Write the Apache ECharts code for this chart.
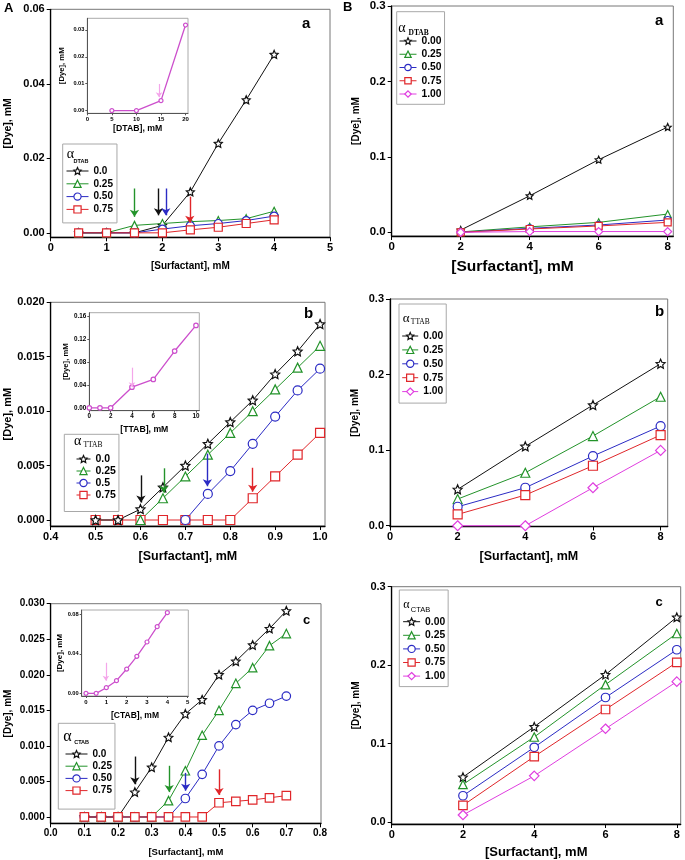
<!DOCTYPE html>
<html><head><meta charset="utf-8">
<script src="https://cdn.jsdelivr.net/npm/echarts@6/dist/echarts.min.js"></script>
<style>html,body{margin:0;padding:0;background:#fff}#c{width:685px;height:860px}</style>
</head><body><div id="c"></div>
<script>
// ---------------- DATA ----------------
// Panel A-a (DTAB)
const xAa = [0.5, 1, 1.5, 2, 2.5, 3, 3.5, 4];
const yAa00 = [0, 0, 0, 0.002, 0.011, 0.024, 0.0357, 0.0479];
const yAa25 = [0, 0, 0.002, 0.0025, 0.003, 0.0033, 0.0038, 0.0058];
const yAa50 = [0, 0, 0, 0.001, 0.0019, 0.0025, 0.0033, 0.0045];
const yAa75 = [0, 0, 0, 0, 0.0008, 0.0015, 0.0025, 0.0035];
const xAaIn = [5, 10, 15, 20];
const yAaIn = [0, 0, 0.0037, 0.0318];
// arrows: [x, yStart, yEnd]
const arrAa00 = [1.93, 0.0119, 0.0047];
const arrAa25 = [1.5, 0.0119, 0.0043];
const arrAa50 = [2.06, 0.0119, 0.0047];
const arrAa75 = [2.49, 0.0097, 0.0027];
const arrAaIn = [14.6, 0.0099, 0.005];

// Panel A-b (TTAB)
const xAb = [0.5, 0.55, 0.6, 0.65, 0.7, 0.75, 0.8, 0.85, 0.9, 0.95, 1.0];
const yAb00 = [0, 0, 0.001, 0.003, 0.005, 0.007, 0.009, 0.011, 0.0134, 0.0155, 0.018];
const yAb25 = [null, null, 0, 0.002, 0.004, 0.006, 0.008, 0.010, 0.012, 0.014, 0.016];
const yAb50 = [null, null, null, null, 0, 0.0024, 0.0045, 0.007, 0.0095, 0.0119, 0.0139];
const yAb75 = [0, 0, 0, 0, 0, 0, 0, 0.002, 0.004, 0.006, 0.008];
const xAbIn = [0, 1, 2, 4, 6, 8, 10];
const yAbIn = [0, 0, 0, 0.036, 0.0495, 0.099, 0.1437];
const arrAb00 = [0.601, 0.0041, 0.0016];
const arrAb25 = [0.652, 0.00475, 0.0025];
const arrAb50 = [0.749, 0.0061, 0.0031];
const arrAb75 = [0.85, 0.0048, 0.0026];
const arrAbIn = [4, 0.07, 0.036];

// Panel A-c (CTAB)
const xAc = [0.1, 0.15, 0.2, 0.25, 0.3, 0.35, 0.4, 0.45, 0.5, 0.55, 0.6, 0.65, 0.7];
const yAc00 = [0, 0, 0, 0.0035, 0.007, 0.0112, 0.0145, 0.0165, 0.0200, 0.0219, 0.0242, 0.0265, 0.0290];
const yAc25 = [0, 0, 0, 0, 0, 0.0023, 0.0065, 0.0115, 0.0150, 0.0188, 0.0210, 0.0241, 0.0258];
const yAc50 = [0, 0, 0, 0, 0, 0, 0.0026, 0.0060, 0.0100, 0.0130, 0.0150, 0.0160, 0.0170];
const yAc75 = [0, 0, 0, 0, 0, 0, 0, 0, 0.0020, 0.0022, 0.0024, 0.0027, 0.0030];
const xAcIn = [0, 0.5, 1, 1.5, 2, 2.5, 3, 3.5, 4];
const yAcIn = [0, 0, 0.0057, 0.0128, 0.0246, 0.0375, 0.052, 0.0675, 0.0817];
const arrAc00 = [0.25, 0.0085, 0.0046];
const arrAc25 = [0.352, 0.0072, 0.0035];
const arrAc50 = [0.401, 0.0062, 0.0037];
const arrAc75 = [0.5, 0.0067, 0.0031];
const arrAcIn = [0.98, 0.031, 0.0128];

// Panels B (a: DTAB, b: TTAB, c: CTAB)
const xB = [2, 4, 6, 8];
const yBa00 = [0.003, 0.0484, 0.0963, 0.1395];
const yBa25 = [0.0005, 0.0072, 0.0132, 0.0242];
const yBa50 = [0, 0.0053, 0.0097, 0.0163];
const yBa75 = [0, 0.0044, 0.0084, 0.0132];
const yBa100 = [0, 0.001, 0.001, 0.001];
const yBb00 = [0.0481, 0.105, 0.1597, 0.2144];
const yBb25 = [0.0353, 0.0701, 0.1187, 0.1707];
const yBb50 = [0.0251, 0.0503, 0.0922, 0.1319];
const yBb75 = [0.015, 0.0406, 0.0794, 0.12];
const yBb100 = [0, 0, 0.0503, 0.0997];
const yBc00 = [0.0575, 0.1217, 0.188, 0.2611];
const yBc25 = [0.0482, 0.1086, 0.1753, 0.2404];
const yBc50 = [0.0338, 0.0955, 0.1589, 0.2197];
const yBc75 = [0.0215, 0.0837, 0.1436, 0.2036];
const yBc100 = [0.0093, 0.0591, 0.1191, 0.1791];

// Tick values and labels
const tAaX = [0, 1, 2, 3, 4, 5], lAaX = ['0', '1', '2', '3', '4', '5'];
const tAaY = [0, 0.02, 0.04, 0.06], lAaY = ['0.00', '0.02', '0.04', '0.06'];
const tAbX = [0.4, 0.5, 0.6, 0.7, 0.8, 0.9, 1.0], lAbX = ['0.4', '0.5', '0.6', '0.7', '0.8', '0.9', '1.0'];
const tAbY = [0, 0.005, 0.01, 0.015, 0.02], lAbY = ['0.000', '0.005', '0.010', '0.015', '0.020'];
const tAcX = [0, 0.1, 0.2, 0.3, 0.4, 0.5, 0.6, 0.7, 0.8], lAcX = ['0.0', '0.1', '0.2', '0.3', '0.4', '0.5', '0.6', '0.7', '0.8'];
const tAcY = [0, 0.005, 0.01, 0.015, 0.02, 0.025, 0.03], lAcY = ['0.000', '0.005', '0.010', '0.015', '0.020', '0.025', '0.030'];
const tBX = [0, 2, 4, 6, 8], lBX = ['0', '2', '4', '6', '8'];
const tBY = [0, 0.1, 0.2, 0.3], lBY = ['0.0', '0.1', '0.2', '0.3'];
const tAaInX = [0, 5, 10, 15, 20], lAaInX = ['0', '5', '10', '15', '20'];
const tAaInY = [0, 0.01, 0.02, 0.03], lAaInY = ['0.00', '0.01', '0.02', '0.03'];
const tAbInX = [0, 2, 4, 6, 8, 10], lAbInX = ['0', '2', '4', '6', '8', '10'];
const tAbInY = [0, 0.04, 0.08, 0.12, 0.16], lAbInY = ['0.00', '0.04', '0.08', '0.12', '0.16'];
const tAcInX = [0, 1, 2, 3, 4, 5], lAcInX = ['0', '1', '2', '3', '4', '5'];
const tAcInY = [0, 0.04, 0.08], lAcInY = ['0.00', '0.04', '0.08'];

// Legend labels
const legA = ['0.0', '0.25', '0.50', '0.75'];
const legAb = ['0.0', '0.25', '0.5', '0.75'];
const legB = ['0.00', '0.25', '0.50', '0.75', '1.00'];

// ---------------- STYLE / BUILD ----------------
const FF = '"Liberation Sans", Arial, sans-serif';
const SERIF = '"Liberation Serif", "DejaVu Serif", serif';
const COL = { k: '#111111', g: '#23932a', b: '#2b2bc4', r: '#e0262a', m: '#e03ee0' };
const INC = '#cc4fcc';
const STAR = 'path://M0,-100L28,-38L95.1,-30.9L45,15L58.8,80.9L0,48L-58.8,80.9L-45,15L-95.1,-30.9L-28,-38Z';
const SYM = { k: STAR, g: 'triangle', b: 'circle', r: 'rect', m: 'diamond' };

function lab(v, ticks, labels) {
  let bi = 0, bd = Infinity;
  ticks.forEach((t, i) => { const d = Math.abs(t - v); if (d < bd) { bd = d; bi = i; } });
  return labels[bi];
}

function axis(gi, min, max, ticks, labels, fs, name, nfs, ngap, o) {
  o = o || {};
  return {
    type: 'value', gridIndex: gi, min: min, max: max,
    axisLine: { show: true, onZero: false, lineStyle: { color: o.lc || '#000', width: o.lw || 1.3 } },
    axisTick: { show: true, customValues: ticks, length: o.tl || 4, lineStyle: { color: o.lc || '#000', width: 1 } },
    axisLabel: { show: true, customValues: ticks, formatter: v => lab(v, ticks, labels), fontSize: fs, fontWeight: 'bold', color: '#000', margin: o.m || 5, fontFamily: FF },
    splitLine: { show: false },
    name: name, nameLocation: 'middle', nameGap: ngap,
    nameTextStyle: { fontSize: nfs, fontWeight: 'bold', color: '#000', fontFamily: FF, padding: o.np || 0 }
  };
}

function arrowML(a, col, w, sz) {
  return {
    silent: true, animation: false, symbol: ['none', 'arrow'], symbolSize: sz || 7,
    lineStyle: { color: col, width: w || 1.4, type: 'solid', opacity: 1 },
    itemStyle: { color: col, borderColor: col },
    label: { show: false },
    emphasis: { disabled: true },
    data: [[{ coord: [a[0], a[1]] }, { coord: [a[0], a[2]] }]]
  };
}

function ser(name, gi, xs, ys, key, size, arrow, opt) {
  opt = opt || {};
  const data = [];
  xs.forEach((x, i) => { if (ys[i] !== null) data.push([x, ys[i]]); });
  const col = opt.col || COL[key];
  const s = {
    type: 'line', name: name, xAxisIndex: gi, yAxisIndex: gi, data: data,
    symbol: opt.sym || SYM[key], symbolSize: size, showSymbol: true,
    lineStyle: { color: col, width: opt.lw || 1 },
    itemStyle: { color: '#fff', borderColor: col, borderWidth: opt.bw || 1.2 },
    emphasis: { disabled: true }, animation: false, clip: false
  };
  if (arrow) s.markLine = arrowML(arrow, opt.acol || col, opt.aw, opt.as);
  return s;
}

const grids = [
  { left: 50.7, top: 9.3, width: 279.3, height: 228 },     // 0 Aa
  { left: 50.7, top: 302.3, width: 274.3, height: 223.7 }, // 1 Ab
  { left: 50.7, top: 603.7, width: 270.3, height: 219.6 }, // 2 Ac
  { left: 391.7, top: 5, width: 281.6, height: 231 },      // 3 Ba
  { left: 390, top: 299, width: 277.7, height: 227.5 },    // 4 Bb
  { left: 391.7, top: 586.7, width: 289, height: 238.3 },  // 5 Bc
  { left: 87.3, top: 18.3, width: 100.7, height: 95 },     // 6 AaIn
  { left: 89.3, top: 312.7, width: 110, height: 98 },      // 7 AbIn
  { left: 81.7, top: 610, width: 106.6, height: 86 }       // 8 AcIn
].map((g, i) => Object.assign(g, { show: true, borderColor: i < 6 ? '#777' : '#aaa', borderWidth: 1, backgroundColor: '#fff', containLabel: false }));

const SX = 'Surfactant';
const inO = { lc: '#555', lw: 1, tl: 2, m: 3 };
const xAxes = [
  axis(0, 0, 5, tAaX, lAaX, 11, '[' + SX + '], mM', 10, 23.5),
  axis(1, 0.4, 1.011, tAbX, lAbX, 11, '[' + SX + '], mM', 12.5, 24),
  axis(2, 0, 0.803, tAcX, lAcX, 10, '[' + SX + '], mM', 9.5, 24.5),
  axis(3, 0, 8.163, tBX, lBX, 11.5, '[' + SX + '], mM', 15.5, 23, { np: [0, 40, 0, 0] }),
  axis(4, 0, 8.21, tBX, lBX, 11, '[' + SX + '], mM', 12.5, 24),
  axis(5, 0, 8.11, tBX, lBX, 11, '[' + SX + '], mM', 13, 22),
  axis(6, 0, 20.5, tAaInX, lAaInX, 6, '[DTAB], mM', 8.7, 10.5, inO),
  axis(7, 0, 10.31, tAbInX, lAbInX, 6.3, '[TTAB], mM', 8.7, 14, inO),
  axis(8, -0.21, 5.03, tAcInX, lAcInX, 6, '[CTAB], mM', 8.5, 15.5, inO)
];
const yAxes = [
  axis(0, -0.0012, 0.06, tAaY, lAaY, 11, '[Dye], mM', 10.5, 37.5, { m: 6 }),
  axis(1, -0.00055, 0.02, tAbY, lAbY, 11, '[Dye], mM', 11, 35, { m: 6 }),
  axis(2, -0.00089, 0.03, tAcY, lAcY, 10, '[Dye], mM', 10, 37, { m: 6 }),
  axis(3, -0.0049, 0.3, tBY, lBY, 11.5, '[Dye], mM', 10, 30, { m: 6 }),
  axis(4, -0.001, 0.3, tBY, lBY, 11, '[Dye], mM', 10, 30, { m: 6 }),
  axis(5, -0.0022, 0.3, tBY, lBY, 11, '[Dye], mM', 10, 30, { m: 6 }),
  axis(6, -0.001, 0.0343, tAaInY, lAaInY, 5.6, '[Dye], mM', 7.7, 21.5, inO),
  axis(7, -0.005, 0.1658, tAbInY, lAbInY, 6.3, '[Dye], mM', 7.7, 17.5, inO),
  axis(8, -0.0027, 0.0844, tAcInY, lAcInY, 5.7, '[Dye], mM', 8, 6.5, inO)
];

const inOpt = () => ({ col: INC, sym: 'circle', lw: 1.3, acol: '#f4a6ea', aw: 1.2, as: 5 });

const series = [
  // A-a
  ser('Aa:0.0', 0, xAa, yAa00, 'k', 8, arrAa00),
  ser('Aa:0.25', 0, xAa, yAa25, 'g', 8, arrAa25),
  ser('Aa:0.50', 0, xAa, yAa50, 'b', 8, arrAa50),
  ser('Aa:0.75', 0, xAa, yAa75, 'r', 8, arrAa75),
  // A-b
  ser('Ab:0.75', 1, xAb, yAb75, 'r', 9, arrAb75),
  ser('Ab:0.5', 1, xAb, yAb50, 'b', 9, arrAb50),
  ser('Ab:0.25', 1, xAb, yAb25, 'g', 9, arrAb25),
  ser('Ab:0.0', 1, xAb, yAb00, 'k', 9, arrAb00),
  // A-c
  ser('Ac:0.0', 2, xAc, yAc00, 'k', 8.5, arrAc00),
  ser('Ac:0.25', 2, xAc, yAc25, 'g', 8.5, arrAc25),
  ser('Ac:0.50', 2, xAc, yAc50, 'b', 8.5, arrAc50),
  ser('Ac:0.75', 2, xAc, yAc75, 'r', 8.5, arrAc75),
  // B-a
  ser('Ba:0.00', 3, xB, yBa00, 'k', 7),
  ser('Ba:0.25', 3, xB, yBa25, 'g', 7),
  ser('Ba:0.50', 3, xB, yBa50, 'b', 7),
  ser('Ba:0.75', 3, xB, yBa75, 'r', 7),
  ser('Ba:1.00', 3, xB, yBa100, 'm', 8),
  // B-b
  ser('Bb:0.00', 4, xB, yBb00, 'k', 9),
  ser('Bb:0.25', 4, xB, yBb25, 'g', 9),
  ser('Bb:0.50', 4, xB, yBb50, 'b', 9),
  ser('Bb:0.75', 4, xB, yBb75, 'r', 9),
  ser('Bb:1.00', 4, xB, yBb100, 'm', 10),
  // B-c
  ser('Bc:0.00', 5, xB, yBc00, 'k', 8.5),
  ser('Bc:0.25', 5, xB, yBc25, 'g', 8.5),
  ser('Bc:0.50', 5, xB, yBc50, 'b', 8.5),
  ser('Bc:0.75', 5, xB, yBc75, 'r', 8.5),
  ser('Bc:1.00', 5, xB, yBc100, 'm', 9.5),
  // insets
  ser('AaIn', 6, xAaIn, yAaIn, 'm', 4, arrAaIn, inOpt()),
  ser('AbIn', 7, xAbIn, yAbIn, 'm', 4.5, arrAbIn, inOpt()),
  ser('AcIn', 8, xAcIn, yAcIn, 'm', 4, arrAcIn, inOpt())
];

function leg(prefix, labels, left, top, pad, iw, ih, gap, fs) {
  return {
    data: labels.map(l => prefix + ':' + l), orient: 'vertical', left: left, top: top,
    padding: pad, itemWidth: iw, itemHeight: ih, itemGap: gap,
    borderColor: '#a8a8a8', borderWidth: 1, selectedMode: false,
    formatter: n => n.split(':')[1],
    itemStyle: { borderWidth: 1.2 }, lineStyle: { width: 1 },
    textStyle: { fontSize: fs, fontWeight: 'bold', color: '#000', fontFamily: FF, lineHeight: 11 }
  };
}
const legends = [
  leg('Aa', legA, 62.7, 144, [21.5, 4, 8, 3.3], 22, 9, 1.8, 10),
  leg('Ab', legAb, 64.3, 434.3, [19.2, 3, 11, 11.7], 14, 9, 1, 10.5),
  leg('Ac', legA, 58.3, 723.3, [25.2, 3, 13, 6.7], 22, 9, 1.2, 10),
  leg('Ba', legB, 396.7, 11.7, [23.8, 3, 4.8, 2.3], 17, 8, 2.25, 10.3),
  leg('Bb', legB, 399, 304, [26.5, 3, 6, 2.7], 16, 9, 2.9, 10.3),
  leg('Bc', legB, 399.3, 590, [26.2, 3, 5, 3.3], 17, 9, 2.6, 10.3)
];

function tt(text, left, top, fs, ff, fw) {
  return { text: text, left: left, top: top, padding: 0, textStyle: { fontSize: fs, fontFamily: ff || FF, fontWeight: fw || 'bold', color: '#000' } };
}
const titles = [
  tt('A', 4, 2, 13), tt('B', 343, 1, 13),
  tt('a', 302, 16, 15), tt('b', 304, 306, 15), tt('c', 303, 614, 13),
  tt('a', 655, 13, 15), tt('b', 655, 304, 15), tt('c', 655.5, 596, 13),
  // legend headers
  tt('α', 66.7, 147, 14, SERIF, 'normal'), tt('DTAB', 73.5, 158, 5.5),
  tt('α', 74, 434.3, 14, SERIF, 'normal'), tt('TTAB', 83.5, 441.2, 7.5, SERIF, 'normal'),
  tt('α', 63.3, 729, 16, SERIF, 'normal'), tt('CTAB', 74.2, 739.7, 5.5),
  tt('α', 398.3, 21.3, 14, SERIF, 'normal'), tt('DTAB', 408.5, 28.7, 7.5, SERIF, 'bold'),
  tt('α', 402.7, 311.6, 13, SERIF, 'normal'), tt('TTAB', 410.8, 318.2, 7.5, SERIF, 'normal'),
  tt('α', 403.3, 599.2, 12, SERIF, 'normal'), tt('CTAB', 410.8, 606, 7.5, FF, 'normal')
];

const chart = echarts.init(document.getElementById('c'), null, { renderer: 'canvas' });
chart.setOption({
  animation: false, backgroundColor: '#fff',
  title: titles, grid: grids, xAxis: xAxes, yAxis: yAxes, legend: legends, series: series,
  tooltip: { show: false }
});
</script></body></html>
